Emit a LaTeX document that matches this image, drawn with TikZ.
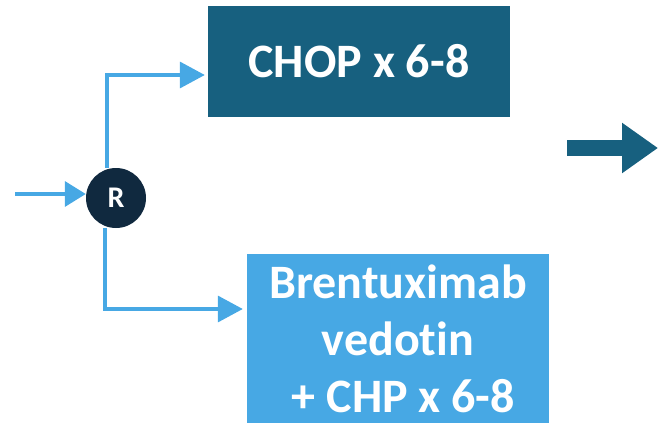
\documentclass[tikz,border=0pt]{standalone}
\usepackage{fontspec}
\setmainfont{Carlito}[Ligatures=NoCommon]
\usetikzlibrary{arrows.meta}
\definecolor{chopblue}{HTML}{17607F}
\definecolor{bvblue}{HTML}{47A8E4}
\definecolor{rnavy}{HTML}{10293F}
\tikzset{
 armbox/.style={rectangle, inner sep=0pt, text=white, font=\bfseries\fontsize{48}{57}\selectfont, align=center},
 flow/.style={draw=bvblue, line width=3.5pt, -{Triangle[length=25pt,width=26pt]}},
}
\begin{document}
\begin{tikzpicture}[x=1pt,y=1pt]
\useasboundingbox (0,0) rectangle (658,-423);

% treatment arms
\node[armbox, fill=chopblue, minimum width=302pt, minimum height=111pt] (chop) at (359,-61.5) {CHOP x 6-8};
\node[armbox, fill=bvblue, minimum width=302pt, minimum height=169pt] (bv) at (398,-338.5) {Brentuximab\\vedotin\\~+ CHP x 6-8};

% randomisation
\node[circle, fill=rnavy, minimum size=60pt, inner sep=0pt, text=white, font=\bfseries\fontsize{30}{34}\selectfont] (r) at (116,-198) {R};

\coordinate (in) at (15,-194);
\draw[flow, -{Triangle[length=21pt,width=25pt]}] (in) -- (in -| r.west);
\draw[flow] ([xshift=-9pt]r.north) |- ([xshift=-3pt,yshift=-13.5pt]chop.west);
\draw[flow] ([xshift=-11pt]r.south) |- ([xshift=-4pt,yshift=29.5pt]bv.west);

% next step
\coordinate (go) at (567,-148);
\coordinate (next) at (658,-148);
\draw[chopblue, line width=16pt, -{Triangle[length=36pt,width=48pt]}] (go) -- (next);
\end{tikzpicture}
\end{document}
